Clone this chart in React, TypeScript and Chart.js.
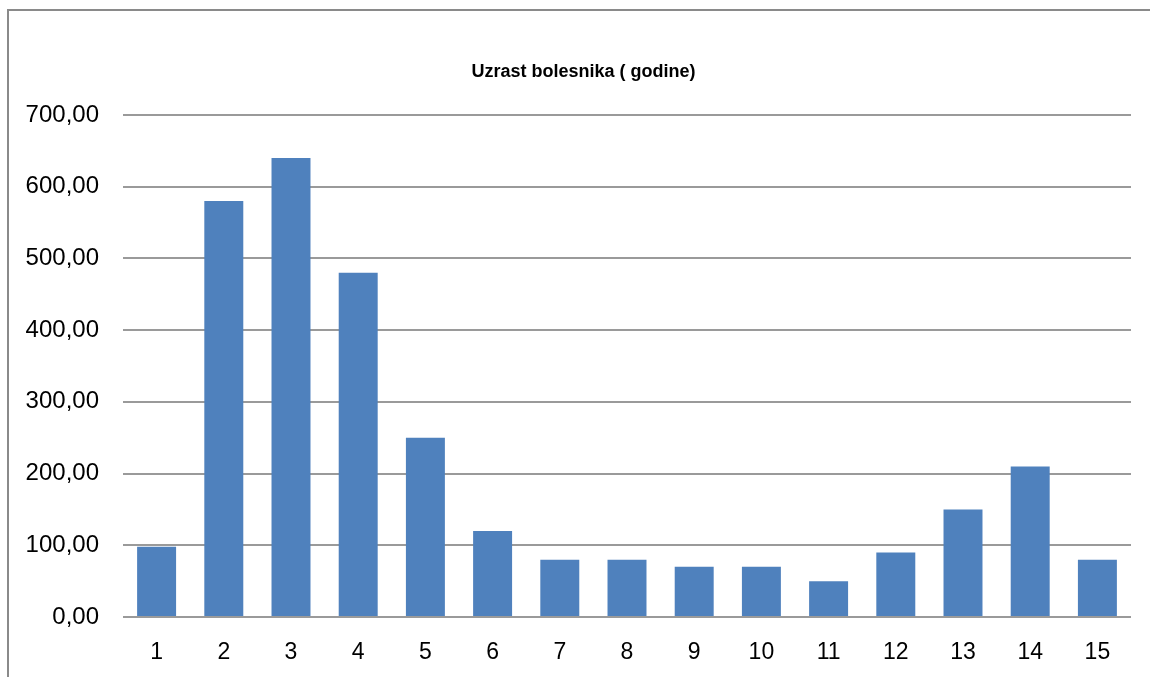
import React, { useEffect, useRef } from "react";
import { Chart, registerables } from "chart.js";

Chart.register(...registerables);

const categories = ["1", "2", "3", "4", "5", "6", "7", "8", "9", "10", "11", "12", "13", "14", "15"];
const values = [98, 580, 640, 480, 250, 120, 80, 80, 70, 70, 50, 90, 150, 210, 80];
const chartTitle = "Uzrast bolesnika ( godine)";
const yMin = 0;
const yMax = 700;
const yStep = 100;

const fmt = (v: number) => v.toFixed(2).replace(".", ",");

const titlePlugin = {
  id: "centeredTitle",
  afterDraw(chart: any) {
    const ctx = chart.ctx;
    ctx.save();
    ctx.font = "bold 18px 'Liberation Sans'";
    ctx.fillStyle = "#000";
    ctx.textAlign = "center";
    ctx.textBaseline = "middle";
    ctx.fillText(chartTitle, 583.5, 72);
    ctx.restore();
  },
};

export default function App() {
  const ref = useRef<HTMLCanvasElement | null>(null);

  useEffect(() => {
    if (!ref.current) return;
    const chart = new Chart(ref.current, {
      type: "bar",
      data: {
        labels: categories,
        datasets: [
          {
            data: values,
            backgroundColor: "#4F81BD",
            borderWidth: 0,
            barPercentage: 0.58,
            categoryPercentage: 1,
          },
        ],
      },
      plugins: [titlePlugin],
      options: {
        responsive: false,
        animation: false,
        layout: { padding: { left: 0, right: 19, top: 115, bottom: 0 } },
        plugins: {
          legend: { display: false },
          tooltip: { enabled: false },
          title: { display: false },
        },
        scales: {
          x: {
            grid: { display: false, drawTicks: false },
            border: { display: false },
            ticks: {
              color: "#000",
              padding: 22,
              font: { family: "Liberation Sans", size: 23 },
            },
            afterFit: (s: any) => {
              s.height = 60;
            },
          },
          y: {
            min: yMin,
            max: yMax,
            grid: { color: "#9a9a9a", lineWidth: 2, drawTicks: false },
            border: { display: false },
            ticks: {
              stepSize: yStep,
              color: "#000",
              padding: 24,
              font: { family: "Liberation Sans", size: 24 },
              callback: (v: any) => fmt(Number(v)),
            },
            afterFit: (s: any) => {
              s.width = 123;
            },
          },
        },
      },
    });
    return () => chart.destroy();
  }, []);

  return (
    <div style={{ position: "absolute", left: 0, top: 0, width: 1150, height: 677, background: "#fff", overflow: "hidden" }}>
      <div
        style={{
          position: "absolute",
          left: 7,
          top: 9,
          width: 1200,
          height: 700,
          borderLeft: "2px solid #8a8a8a",
          borderTop: "2px solid #8a8a8a",
        }}
      />
      <canvas ref={ref} width={1150} height={677} style={{ position: "absolute", left: 0, top: 0 }} />
    </div>
  );
}
